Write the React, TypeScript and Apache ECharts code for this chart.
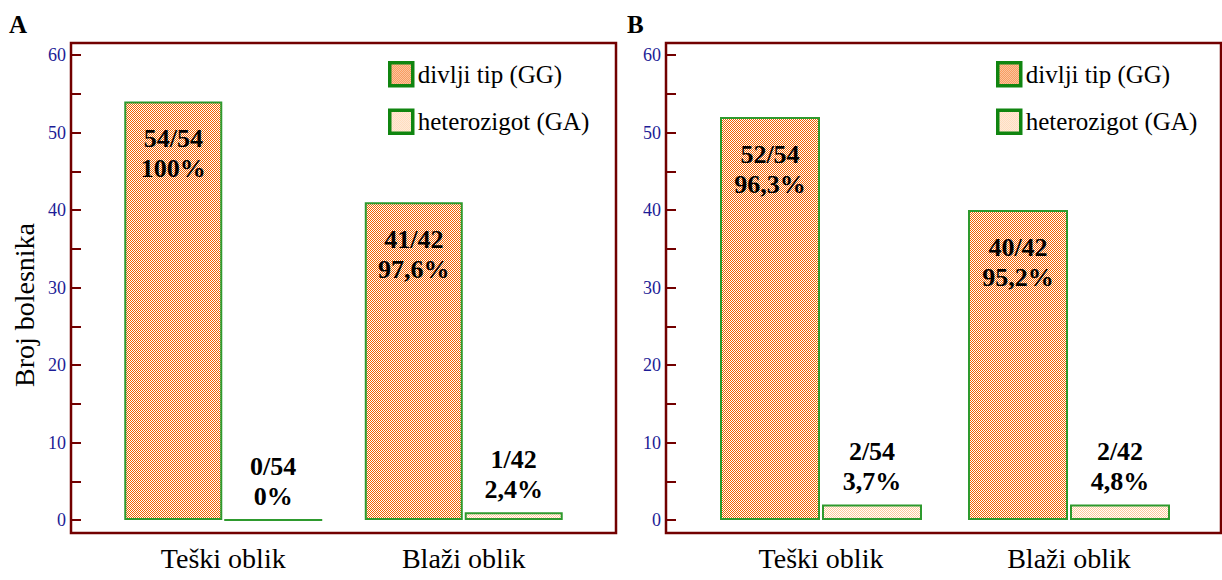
import React, { useEffect, useRef } from "react";
import * as echarts from "echarts";

const categories = ["Teški oblik", "Blaži oblik"];
const seriesNames = ["divlji tip (GG)", "heterozigot (GA)"];
const aGG = [54, 41];
const aGA = [0, 1];
const bGG = [52, 40];
const bGA = [2, 2];
const aGGLabels = ["54/54\n100%", "41/42\n97,6%"];
const aGALabels = ["0/54\n0%", "1/42\n2,4%"];
const bGGLabels = ["52/54\n96,3%", "40/42\n95,2%"];
const bGALabels = ["2/54\n3,7%", "2/42\n4,8%"];
const yTicks = [0, 60, 10];

const SERIF = "Liberation Serif";

function makePattern(c1: string, c2: string) {
  const cv = document.createElement("canvas");
  cv.width = 2;
  cv.height = 2;
  const ctx = cv.getContext("2d")!;
  ctx.fillStyle = c2;
  ctx.fillRect(0, 0, 2, 2);
  ctx.fillStyle = c1;
  ctx.fillRect(0, 0, 1, 1);
  ctx.fillRect(1, 1, 1, 1);
  return { image: cv, repeat: "repeat" } as any;
}

export default function App() {
  const ref = useRef<HTMLDivElement>(null);
  useEffect(() => {
    const chart = echarts.init(ref.current!, null, { renderer: "svg" });
    const ggFill = makePattern("#f46200", "#ffffff");
    const gaFill = makePattern("#ffc898", "#ffffff");
    const barBorder = "#2e9a2e";
    const frame = "#720000";

    const yAxisBase = (gridIndex: number, offset: number) => ({
      type: "value",
      gridIndex,
      min: yTicks[0],
      max: yTicks[1],
      interval: yTicks[2],
      offset,
      axisLine: { show: false },
      splitLine: { show: false },
      axisTick: { show: true, inside: true, length: 10, lineStyle: { color: frame, width: 2 } },
      minorTick: { show: true, splitNumber: 2, length: 10, lineStyle: { color: frame, width: 2 } },
      axisLabel: { color: "#1c1c96", fontFamily: SERIF, fontSize: 18, margin: 5 },
    });
    const xAxisBase = (gridIndex: number) => ({
      type: "category",
      gridIndex,
      data: categories,
      axisLine: { show: false },
      axisTick: { show: false },
      axisLabel: { color: "#000", fontFamily: SERIF, fontSize: 28, margin: 24 },
    });
    const ggLabel = (labels: string[]) => ({
      show: true,
      position: "insideTop",
      distance: 22,
      fontFamily: SERIF,
      fontWeight: "bold",
      fontSize: 26,
      lineHeight: 30,
      color: "#000",
      formatter: (p: any) => labels[p.dataIndex],
    });
    const gaLabel = (labels: string[]) => ({
      show: true,
      position: "top",
      distance: 8,
      fontFamily: SERIF,
      fontWeight: "bold",
      fontSize: 26,
      lineHeight: 30,
      color: "#000",
      formatter: (p: any) => labels[p.dataIndex],
    });
    const bar = (name: string, idx: number, data: number[], fill: any, width: number, label: any) => ({
      type: "bar",
      name,
      xAxisIndex: idx,
      yAxisIndex: idx,
      data,
      barWidth: width,
      barGap: "2%",
      itemStyle: { color: fill, borderColor: barBorder, borderWidth: 2 },
      label,
    });
    const legendBase = (left: number) => ({
      data: seriesNames,
      orient: "vertical",
      left,
      top: 61,
      padding: 0,
      itemWidth: 23,
      itemHeight: 23,
      itemGap: 21,
      icon: "rect",
      itemStyle: { borderColor: "#108510", borderWidth: 3.5 },
      textStyle: { fontFamily: SERIF, fontSize: 25, color: "#000" },
      selectedMode: false,
    });

    chart.setOption({
      animation: false,
      textStyle: { fontFamily: SERIF },
      grid: [
        { left: 103, top: 55, width: 481, height: 465 },
        { left: 697, top: 55, width: 496, height: 465 },
      ],
      xAxis: [xAxisBase(0), xAxisBase(1)],
      yAxis: [yAxisBase(0, 32), yAxisBase(1, 31)],
      legend: [legendBase(388), legendBase(996)],
      series: [
        bar(seriesNames[0], 0, aGG, ggFill, 98, ggLabel(aGGLabels)),
        bar(seriesNames[1], 0, aGA, gaFill, 98, gaLabel(aGALabels)),
        bar(seriesNames[0], 1, bGG, ggFill, 100, ggLabel(bGGLabels)),
        bar(seriesNames[1], 1, bGA, gaFill, 100, gaLabel(bGALabels)),
      ],
      graphic: [
        { type: "rect", shape: { x: 71, y: 43, width: 545, height: 490 }, style: { fill: "none", stroke: frame, lineWidth: 2.5 }, z: 10 },
        { type: "rect", shape: { x: 666, y: 43, width: 555, height: 490 }, style: { fill: "none", stroke: frame, lineWidth: 2.5 }, z: 10 },
        { type: "text", x: 9, y: 12, style: { text: "A", font: `bold 25px ${SERIF}`, fill: "#000" } },
        { type: "text", x: 627, y: 12, style: { text: "B", font: `bold 25px ${SERIF}`, fill: "#000" } },
        {
          type: "text",
          x: 24,
          y: 305,
          rotation: Math.PI / 2,
          style: { text: "Broj bolesnika", font: `28px ${SERIF}`, fill: "#000", align: "center", verticalAlign: "middle" },
        },
      ],
    });
    return () => chart.dispose();
  }, []);
  return <div ref={ref} style={{ position: "absolute", left: 0, top: 0, width: 1222, height: 580 }} />;
}
